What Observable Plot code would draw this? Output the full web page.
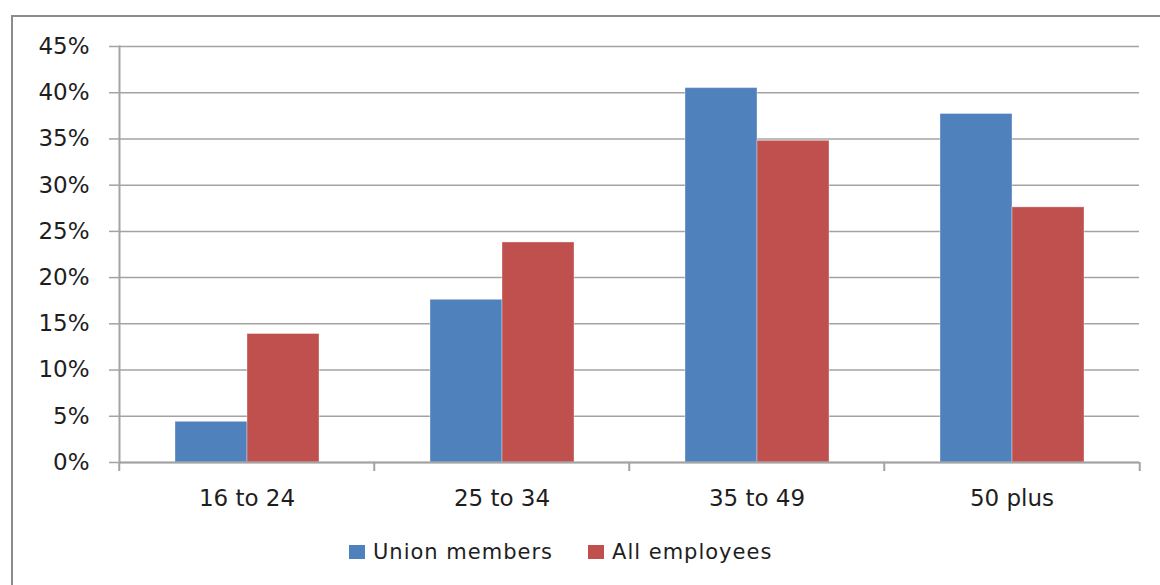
<!DOCTYPE html>
<html>
<head>
<meta charset="utf-8">
<script src="https://cdn.jsdelivr.net/npm/d3@7"></script>
<script src="https://cdn.jsdelivr.net/npm/@observablehq/plot@0.6"></script>
<style>
  html, body { margin: 0; padding: 0; background: #fff; }
  #wrap { position: relative; width: 1160px; height: 585px; overflow: hidden; background: #fff; }
  #frame { position: absolute; left: 11px; top: 15px; width: 1300px; height: 700px;
           border-left: 2px solid #8c8c8c; border-top: 2px solid #8c8c8c; }
  #chart { position: absolute; left: 0; top: 0; }
  #legend { position: absolute; left: 349px; top: 540px; display: flex; align-items: center;
            font-family: "DejaVu Sans", sans-serif; font-size: 21px; letter-spacing: 1px; color: #1e1e1e; }
  .item { display: flex; align-items: center; margin-right: 35px; }
  .sw { width: 16px; height: 14px; margin-right: 8px; }
</style>
</head>
<body>
<div id="wrap">
  <div id="frame"></div>
  <div id="chart"></div>
  <div id="legend"></div>
</div>
<script>
const categories = ["16 to 24", "25 to 34", "35 to 49", "50 plus"];
const series = ["Union members", "All employees"];
const unionValues = [0.044, 0.176, 0.405, 0.377];
const allValues = [0.139, 0.238, 0.348, 0.276];
const yTicks = [0, 0.05, 0.10, 0.15, 0.20, 0.25, 0.30, 0.35, 0.40, 0.45];
const colors = ["#4F81BD", "#C0504D"];

const data = categories.flatMap((c, i) => [
  {category: c, series: series[0], value: unionValues[i]},
  {category: c, series: series[1], value: allValues[i]}
]);

const gray = "#a3a3a3";
const width = 1160, marginLeft = 118, marginRight = 20;
const band = (width - marginLeft - marginRight) / categories.length;

const chart = Plot.plot({
  width, height: 520,
  marginLeft, marginRight, marginTop: 46, marginBottom: 58,
  style: {fontFamily: "DejaVu Sans, sans-serif", fontSize: "22px", color: "#1e1e1e", background: "transparent", overflow: "visible"},
  fx: {domain: categories, paddingInner: 0, paddingOuter: 0, label: null},
  x: {domain: series, paddingInner: 0, paddingOuter: 0.752, axis: null},
  y: {domain: [0, 0.45], label: null},
  color: {domain: series, range: colors},
  marks: [
    Plot.gridY(yTicks, {stroke: gray, strokeOpacity: 1, strokeWidth: 1.5}),
    Plot.axisY(yTicks, {tickFormat: d3.format(".0%"), tickSize: 10, tickPadding: 20, stroke: gray, strokeWidth: 1.5, fontSize: 23, letterSpacing: 1.2, label: null}),
    Plot.barY(data, {fx: "category", x: "series", y: "value", fill: "series", stroke: "#ffffff", strokeOpacity: 0.35, strokeWidth: 1}),
    Plot.ruleY([0], {stroke: gray, strokeWidth: 2}),
    Plot.frame({anchor: "left", facetAnchor: "left", stroke: gray, strokeWidth: 2}),
    Plot.axisFx({anchor: "bottom", tickSize: 0, tickPadding: 27, fontSize: 23, letterSpacing: 1.6, label: null}),
    Plot.axisFx({anchor: "bottom", tickSize: 9, tickFormat: () => "", stroke: gray, strokeWidth: 2, dx: -band / 2, label: null}),
    Plot.axisFx({anchor: "bottom", ticks: [categories[categories.length - 1]], tickSize: 9, tickFormat: () => "", stroke: gray, strokeWidth: 2, dx: band / 2, label: null})
  ]
});
document.getElementById("chart").appendChild(chart);

const legend = document.getElementById("legend");
series.forEach((s, i) => {
  const item = document.createElement("div");
  item.className = "item";
  const sw = document.createElement("div");
  sw.className = "sw";
  sw.style.background = colors[i];
  const label = document.createElement("span");
  label.textContent = s;
  item.appendChild(sw);
  item.appendChild(label);
  legend.appendChild(item);
});
</script>
</body>
</html>
